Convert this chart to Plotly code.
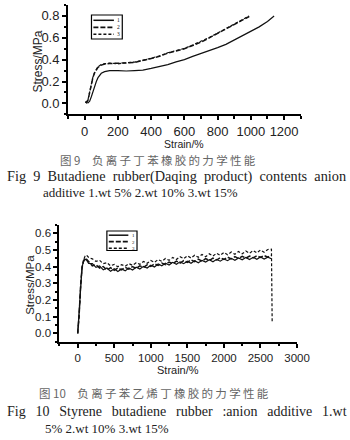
import plotly.graph_objects as go

W, H = 350, 440

# ---------------- Fig 9 data (Butadiene rubber) ----------------
strain_a1 = [5, 10, 20, 30, 40, 50, 60, 70, 80, 100, 120, 150, 200, 250, 300, 350, 400, 450,
             500, 550, 600, 650, 700, 750, 800, 850, 900, 950, 1000, 1050, 1100, 1140]
stress_a1 = [0.015, 0.008, 0.005, 0.02, 0.06, 0.11, 0.16, 0.20, 0.235, 0.275, 0.29, 0.30, 0.30,
             0.296, 0.30, 0.305, 0.32, 0.335, 0.355, 0.38, 0.40, 0.43, 0.455, 0.48, 0.51, 0.54,
             0.58, 0.62, 0.66, 0.70, 0.75, 0.80]
strain_a2 = [5, 10, 20, 30, 40, 50, 60, 70, 80, 100, 120, 150, 200, 250, 300, 350, 400, 450,
             500, 550, 600, 650, 700, 750, 800, 850, 900, 950, 990]
stress_a2 = [0.015, 0.008, 0.03, 0.10, 0.18, 0.24, 0.28, 0.31, 0.33, 0.35, 0.36, 0.365, 0.365,
             0.37, 0.375, 0.39, 0.41, 0.43, 0.46, 0.48, 0.50, 0.53, 0.56, 0.60, 0.64, 0.68,
             0.72, 0.76, 0.795]
stress_a3 = [0.015, 0.008, 0.035, 0.105, 0.185, 0.245, 0.285, 0.315, 0.335, 0.355, 0.363, 0.368,
             0.362, 0.372, 0.378, 0.393, 0.414, 0.434, 0.463, 0.484, 0.503, 0.534, 0.565, 0.603,
             0.643, 0.684, 0.724, 0.765, 0.80]

# ---------------- Fig 10 data (Styrene butadiene rubber) ----------------
strain_b = [0, 20, 40, 60, 80, 100, 120, 150,
            200, 250, 300, 350, 400, 450, 500, 550, 600, 650, 700, 750, 800, 850, 900, 950,
            1000, 1050, 1100, 1150, 1200, 1250, 1300, 1350, 1400, 1450, 1500, 1550, 1600,
            1650, 1700, 1750, 1800, 1850, 1900, 1950, 2000, 2050, 2100, 2150, 2200, 2250,
            2300, 2350, 2400, 2450, 2500, 2550, 2600, 2650]
stress_b1 = [0.000, 0.120, 0.300, 0.400, 0.430, 0.445, 0.440, 0.420,
             0.418, 0.396, 0.404, 0.381, 0.392, 0.372, 0.388, 0.371, 0.386, 0.375, 0.392, 0.380,
             0.397, 0.386, 0.402, 0.392, 0.409, 0.398, 0.416, 0.405, 0.421, 0.410, 0.426, 0.414,
             0.429, 0.418, 0.433, 0.421, 0.436, 0.424, 0.438, 0.428, 0.442, 0.430, 0.444, 0.433,
             0.447, 0.436, 0.450, 0.438, 0.452, 0.441, 0.455, 0.443, 0.456, 0.444, 0.458, 0.446,
             0.457, 0.448]
stress_b2 = [0.000, 0.110, 0.290, 0.395, 0.435, 0.450, 0.446, 0.428,
             0.405, 0.412, 0.392, 0.401, 0.380, 0.394, 0.378, 0.392, 0.381, 0.396, 0.385, 0.401,
             0.390, 0.405, 0.396, 0.411, 0.401, 0.417, 0.407, 0.422, 0.412, 0.428, 0.418, 0.433,
             0.422, 0.437, 0.426, 0.441, 0.430, 0.445, 0.433, 0.448, 0.437, 0.451, 0.440, 0.454,
             0.443, 0.457, 0.446, 0.460, 0.449, 0.462, 0.451, 0.464, 0.453, 0.466, 0.455, 0.467,
             0.457, 0.468]
strain_b3 = strain_b + [2660]
stress_b3 = [0.000, 0.100, 0.280, 0.390, 0.440, 0.462, 0.470, 0.455,
             0.447, 0.432, 0.438, 0.418, 0.424, 0.405, 0.414, 0.400, 0.412, 0.403, 0.418, 0.408,
             0.424, 0.414, 0.431, 0.420, 0.437, 0.426, 0.443, 0.432, 0.449, 0.438, 0.455, 0.443,
             0.460, 0.448, 0.465, 0.452, 0.469, 0.456, 0.473, 0.460, 0.477, 0.464, 0.481, 0.468,
             0.485, 0.471, 0.488, 0.474, 0.491, 0.477, 0.494, 0.480, 0.497, 0.483, 0.500, 0.486,
             0.503, 0.505, 0.06]

series_names = ["1", "2", "3"]
dashes = ["solid", "5px,2px", "3px,2px"]
widths = [1.2, 1.5, 1.2]

# ---------------- helpers ----------------
def px(x):
    return x / W

def py(y):
    return 1 - y / H

fig = go.Figure()

top = [(strain_a1, stress_a1), (strain_a2, stress_a2), (strain_a2, stress_a3)]
bot = [(strain_b, stress_b1), (strain_b, stress_b2), (strain_b3, stress_b3)]
for i, (xs, ys) in enumerate(top):
    fig.add_trace(go.Scatter(x=xs, y=ys, mode="lines", name=series_names[i],
                             line=dict(color="#111", width=widths[i], dash=dashes[i]),
                             xaxis="x", yaxis="y", showlegend=False))
for i, (xs, ys) in enumerate(bot):
    fig.add_trace(go.Scatter(x=xs, y=ys, mode="lines", name=series_names[i],
                             line=dict(color="#111", width=widths[i], dash=dashes[i]),
                             xaxis="x2", yaxis="y2", showlegend=False))

axis_common = dict(showgrid=False, zeroline=False, showline=True, linecolor="#000",
                   linewidth=2, ticks="outside", ticklen=4, tickwidth=1.5, tickcolor="#000",
                   mirror=False)
tick_font_top = dict(family="Liberation Sans, Arial, sans-serif", size=13, color="#222")
tick_font_bot = dict(family="Liberation Sans, Arial, sans-serif", size=11.5, color="#222")

fig.update_layout(
    width=W, height=H, margin=dict(l=0, r=0, t=0, b=0),
    paper_bgcolor="white", plot_bgcolor="white",
    xaxis=dict(axis_common, domain=[px(70.7), px(312.3)], range=[-100, 1300],
               tick0=0, dtick=200, anchor="y", tickfont=tick_font_top,
               minor=dict(ticks="outside", ticklen=2.5, dtick=100, tick0=0, tickcolor="#000")),
    yaxis=dict(axis_common, domain=[py(114.3), py(5)], range=[-0.1, 0.9],
               tick0=0, dtick=0.2, tickformat=".1f", anchor="x", tickfont=tick_font_top,
               minor=dict(ticks="outside", ticklen=2.5, dtick=0.1, tick0=0, tickcolor="#000")),
    xaxis2=dict(axis_common, domain=[px(61.7), px(308.5)], range=[-250, 3000],
                tick0=0, dtick=500, anchor="y2", tickfont=tick_font_bot,
                minor=dict(ticks="outside", ticklen=2.5, dtick=250, tick0=0, tickcolor="#000")),
    yaxis2=dict(axis_common, domain=[py(341.7), py(225)], range=[-0.05, 0.65],
                tick0=0, dtick=0.1, tickformat=".1f", anchor="x2", tickfont=tick_font_bot,
                minor=dict(ticks="outside", ticklen=2.5, dtick=0.05, tick0=0, tickcolor="#000")),
    showlegend=False,
)

sans = "Liberation Sans, Arial, sans-serif"
serif = "Liberation Serif, Times New Roman, serif"
cjk = "Noto Sans CJK SC"

ann = []
def text(x, y, s, size, family, color="#222", xanchor="center", angle=0, yanchor="middle"):
    ann.append(dict(x=px(x), y=py(y), xref="paper", yref="paper", text=s, showarrow=False,
                    xanchor=xanchor, yanchor=yanchor, textangle=angle,
                    font=dict(size=size, family=family, color=color)))

# axis titles
text(191, 144.5, "Strain/%", 10.5, sans)
text(39, 62, "Stress/MPa", 12, sans, angle=-90)
text(185, 370, "Strain/%", 11, sans)
text(31, 285, "Stress/MPa", 11.5, sans, angle=-90)

# captions
thin = "\u2009"
cn9 = "图 9" + "\u2003" + thin.join("负离子丁苯橡胶的力学性能")
cn10 = "图 10" + "\u2003" + thin.join("负离子苯乙烯丁橡胶的力学性能")
en = "\u2002"
g10 = "\u2002\u2009"
text(164, 160, cn9, 11.5, cjk, color="#666")
text(5, 176, en.join("Fig 9 Butadiene rubber(Daqing product) contents anion".split(" ")),
     14.3, serif, xanchor="left")
text(43, 192.5, "additive 1.wt 5% 2.wt 10% 3.wt 15%", 13, serif, xanchor="left")
text(160, 393, cn10, 11.5, cjk, color="#666")
text(5, 411, g10.join("Fig 10 Styrene butadiene rubber :anion additive 1.wt".split(" ")),
     14, serif, xanchor="left")
text(45, 428, "5% 2.wt 10% 3.wt 15%", 13, serif, xanchor="left")

# legends (drawn in paper space)
shapes = []
def legend(x0, y0, x1, y1, lx0, lx1, rows, labx, fs):
    shapes.append(dict(type="rect", xref="paper", yref="paper", x0=px(x0), x1=px(x1),
                       y0=py(y1), y1=py(y0), line=dict(color="#000", width=1.2),
                       fillcolor="white", layer="above"))
    for i, ry in enumerate(rows):
        shapes.append(dict(type="line", xref="paper", yref="paper", x0=px(lx0), x1=px(lx1),
                           y0=py(ry), y1=py(ry),
                           line=dict(color="#111", width=widths[i] + 0.3, dash=dashes[i])))
    text(labx, (rows[0] + rows[-1]) / 2, "<br>".join(series_names), fs, serif,
         color="#111", xanchor="left")

legend(95, 15, 127, 39, 97, 118.3, [20.3, 27.3, 34.3], 119.5, 5.5)
legend(111, 231, 142.3, 250.5, 113, 133.3, [235.2, 241.7, 248.2], 134.5, 5)

fig.update_layout(annotations=ann, shapes=shapes)
fig.write_html("out.html")
